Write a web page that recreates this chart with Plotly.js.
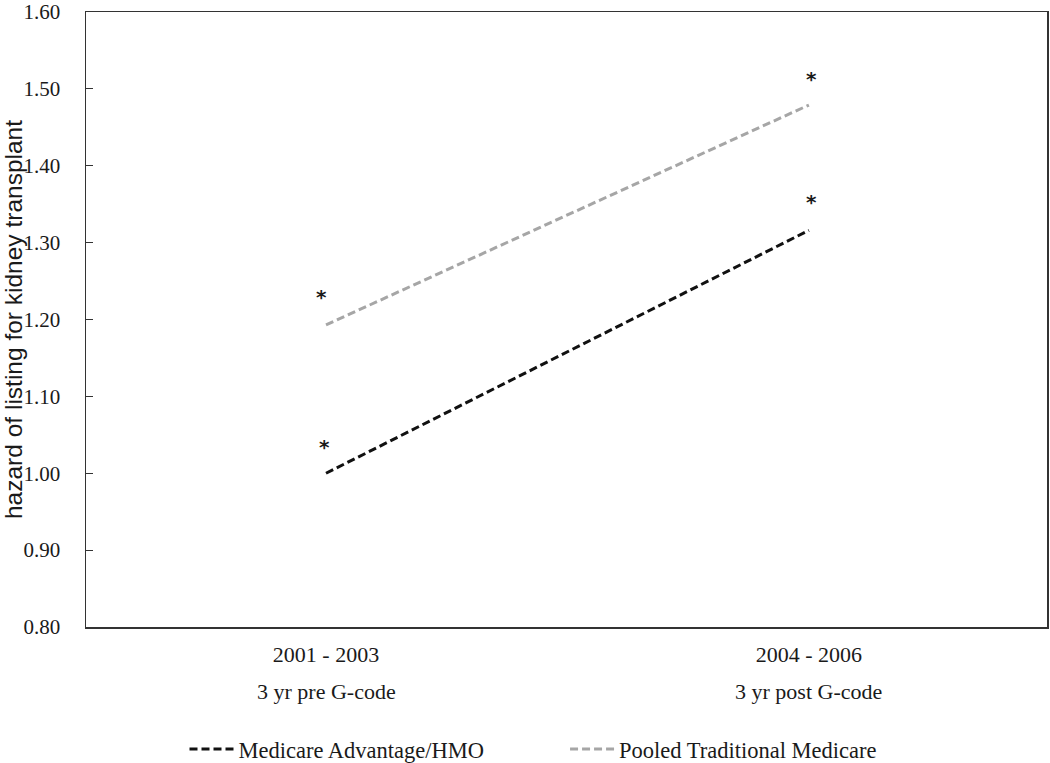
<!DOCTYPE html>
<html>
<head>
<meta charset="utf-8">
<script src="https://cdn.plot.ly/plotly-3.0.1.min.js"></script>
<style>html,body{margin:0;padding:0;background:#fff;}#chart{width:1050px;height:763px;}</style>
</head>
<body>
<div id="chart"></div>
<script>
const periods = ['2001 - 2003', '2004 - 2006'];
const periodNotes = ['3 yr pre G-code', '3 yr post G-code'];
const seriesNames = ['Medicare Advantage/HMO', 'Pooled Traditional Medicare'];
const maValues = [1.00, 1.316];
const tmValues = [1.193, 1.479];
const maSignif = ['*', '*'];
const tmSignif = ['*', '*'];

const serif = 'Liberation Serif, Times New Roman, serif';
const sans = 'Liberation Sans, Arial, sans-serif';
const txt = '#1a1a1a';

const traces = [
  {x: periods, y: maValues, name: seriesNames[0], type: 'scatter', mode: 'lines',
   line: {color: '#111111', width: 3, dash: '8px,4px'}, legend: 'legend'},
  {x: periods, y: tmValues, name: seriesNames[1], type: 'scatter', mode: 'lines',
   line: {color: '#a6a6a6', width: 3, dash: '8px,4px'}, legend: 'legend2'}
];

const annotations = [];
const xs = [-2, 3];
const starFont = {family: 'DejaVu Sans, sans-serif', size: 20, color: txt, weight: 'bold'};
periods.forEach((p, i) => {
  annotations.push({x: p, y: maValues[i], xref: 'x', yref: 'y', text: maSignif[i], showarrow: false,
    xshift: xs[i], yshift: 26 + 2 * i, font: starFont});
  annotations.push({x: p, y: tmValues[i], xref: 'x', yref: 'y', text: tmSignif[i], showarrow: false,
    xshift: xs[i] - 3 * (1 - i), yshift: 28 - 2 * i, font: starFont});
  annotations.push({x: p, y: -0.105, xref: 'x', yref: 'paper', yanchor: 'middle', text: periodNotes[i],
    showarrow: false, font: {family: serif, size: 22, color: txt}});
});

const layout = {
  width: 1050, height: 763,
  margin: {l: 86, r: 3, t: 12, b: 136},
  paper_bgcolor: '#fff', plot_bgcolor: '#fff',
  showlegend: true,
  xaxis: {type: 'category', range: [-0.497, 1.493], showgrid: false, zeroline: false,
    showline: true, mirror: true, linecolor: '#333', linewidth: 1.5, ticks: '',
    ticklabelstandoff: 7,
    tickfont: {family: serif, size: 22, color: txt}},
  yaxis: {range: [0.8, 1.6], dtick: 0.1, tickformat: '.2f', showgrid: false, zeroline: false,
    showline: true, mirror: true, linecolor: '#333', linewidth: 1.5,
    ticks: 'inside', ticklen: 7, tickcolor: '#333', tickwidth: 1.2,
    ticklabelstandoff: 20, ticklabeloverflow: 'allow',
    tickfont: {family: serif, size: 21, color: txt},
    title: {text: 'hazard of listing for kidney transplant', standoff: 8,
      font: {family: sans, size: 24.5, color: txt}}},
  legend: {orientation: 'h', x: 0.1025, xanchor: 'left', yref: 'container', y: 0.018, yanchor: 'middle',
    itemwidth: 44,
    font: {family: serif, size: 22.5, color: txt}, bgcolor: 'rgba(0,0,0,0)'},
  legend2: {orientation: 'h', x: 0.4985, xanchor: 'left', yref: 'container', y: 0.018, yanchor: 'middle',
    itemwidth: 44,
    font: {family: serif, size: 22.5, color: txt}, bgcolor: 'rgba(0,0,0,0)'},
  annotations: annotations
};

Plotly.newPlot('chart', traces, layout, {displayModeBar: false, staticPlot: true});
</script>
</body>
</html>
